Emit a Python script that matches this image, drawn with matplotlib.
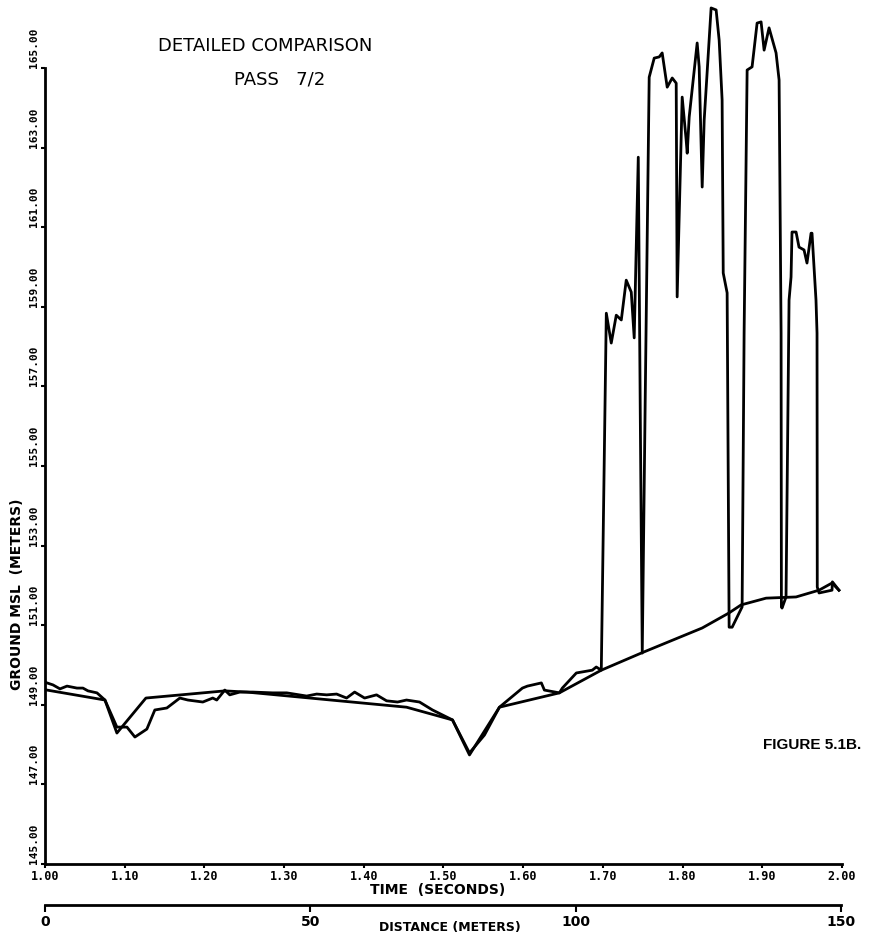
import matplotlib
matplotlib.use("Agg")
from matplotlib import pyplot as plt

# measured profile (time in seconds, ground MSL in meters)
meas_t = [1.0025, 1.010, 1.0188, 1.0276, 1.0401, 1.0476, 1.0539, 1.0652, 1.0752,
          1.0902, 1.1028, 1.1128, 1.1278, 1.1378, 1.1529, 1.1692, 1.1792, 1.1980,
          1.2105, 1.2155, 1.2256, 1.2318, 1.2444, 1.2607, 1.2857, 1.3033, 1.3283,
          1.3409, 1.3534, 1.3659, 1.3784, 1.3885, 1.4010, 1.4160, 1.4286, 1.4424,
          1.4536, 1.4699, 1.4862, 1.5113, 1.5326, 1.5514, 1.5702, 1.5990, 1.6053,
          1.6228, 1.6266, 1.6454, 1.6491, 1.6667, 1.6867, 1.6917, 1.6980,
          1.7043, 1.7105, 1.7168, 1.7231, 1.7293, 1.7356, 1.7393, 1.7444, 1.7469,
          1.7494, 1.7531, 1.7581, 1.7644, 1.7707, 1.7744, 1.7807, 1.7870, 1.7920,
          1.7932, 1.7995, 1.8045, 1.8058, 1.8083, 1.8183, 1.8208, 1.8246, 1.8271,
          1.8358, 1.8421, 1.8459, 1.8496, 1.8510, 1.8559, 1.8584, 1.8622, 1.8747,
          1.8772, 1.8810, 1.8872, 1.8935, 1.8985, 1.9023, 1.9085, 1.9173, 1.9211,
          1.9236, 1.9240, 1.9248, 1.9298, 1.9336, 1.9361, 1.9373, 1.9424, 1.9461,
          1.9524, 1.9561, 1.9612, 1.9624, 1.9674, 1.9687, 1.9690, 1.9712, 1.9875,
          1.9880, 1.9962]
meas_z = [149.55, 149.50, 149.40, 149.47, 149.42, 149.42, 149.35, 149.30, 149.12,
          148.44, 148.44, 148.19, 148.39, 148.87, 148.92, 149.17, 149.12, 149.07,
          149.17, 149.12, 149.37, 149.25, 149.32, 149.32, 149.30, 149.30, 149.22,
          149.27, 149.25, 149.27, 149.17, 149.32, 149.17, 149.25, 149.10, 149.07,
          149.12, 149.07, 148.87, 148.62, 147.79, 148.24, 148.94, 149.42, 149.47,
          149.55, 149.37, 149.30, 149.42, 149.80, 149.87, 149.95, 149.87,
          158.84, 158.09, 158.79, 158.67, 159.67, 159.37, 158.22, 162.76, 156.33,
          150.30, 156.66, 164.77, 165.25, 165.28, 165.38, 164.52, 164.75, 164.62,
          159.25, 164.27, 163.19, 162.86, 163.77, 165.63, 165.03, 162.01, 163.69,
          166.51, 166.46, 165.70, 164.20, 159.85, 159.35, 150.95, 150.95, 151.46,
          158.34, 164.95, 165.03, 166.13, 166.16, 165.45, 166.01, 165.38, 164.70,
          158.34, 151.46, 151.43, 151.71, 159.17, 159.75, 160.88, 160.88, 160.50,
          160.43, 160.10, 160.85, 160.85, 159.17, 158.34, 151.96, 151.81, 151.88,
          152.09, 151.88]

# reference ground profile
ref_t = [1.0025, 1.0752, 1.0902, 1.1266, 1.2256, 1.2531, 1.4536, 1.5113, 1.5326,
         1.5702, 1.6454, 1.6980, 1.7481, 1.8246, 1.8584, 1.8734, 1.9048, 1.9424,
         1.9712, 1.9875, 1.9962]
ref_z = [149.37, 149.12, 148.29, 149.17, 149.35, 149.32, 148.94, 148.62, 147.74,
         148.94, 149.30, 149.87, 150.30, 150.93, 151.31, 151.51, 151.68, 151.71,
         151.88, 152.06, 151.88]

time_ticks = [1.0, 1.1, 1.2, 1.3, 1.4, 1.5, 1.6, 1.7, 1.8, 1.9, 2.0]
elev_ticks = [145, 147, 149, 151, 153, 155, 157, 159, 161, 163, 165]
dist_ticks = [0, 50, 100, 150]

fig = plt.figure(figsize=(8.74, 9.38), dpi=100)
ax = fig.add_axes([0.0515, 0.0789, 0.913, 0.9211])

ax.plot(ref_t, ref_z, color="black", lw=2.0, solid_joinstyle="round")
ax.plot(meas_t, meas_z, color="black", lw=2.0, solid_joinstyle="round")

ax.set_xlim(1.0, 2.0 + 1 / 798)
ax.set_ylim(145, 166.71)

for s in ["top", "right"]:
    ax.spines[s].set_visible(False)
ax.spines["left"].set_bounds(145, 165)
ax.spines["bottom"].set_bounds(1.0, 2.0)
ax.spines["left"].set_linewidth(2)
ax.spines["bottom"].set_linewidth(2)

ax.set_xticks(time_ticks)
ax.set_xticklabels(["%.2f" % v for v in time_ticks], family="DejaVu Sans Mono",
                   fontsize=8.5, fontweight="bold")
ax.set_yticks(elev_ticks)
ax.set_yticklabels(["%.2f" % v for v in elev_ticks], family="DejaVu Sans Mono",
                   fontsize=8, fontweight="bold", rotation=90, va="bottom")
ax.tick_params(axis="both", direction="out", length=3, width=1.5, pad=1)

# distance axis under the time axis
sec = ax.secondary_xaxis(-0.0475, functions=(lambda t: (t - 1) * 150.1,
                                             lambda d: 1 + d / 150.1))
sec.set_xticks(dist_ticks)
sec.set_xticklabels([str(v) for v in dist_ticks], fontsize=10, fontweight="bold")
sec.spines["bottom"].set_bounds(0, 150)
sec.spines["bottom"].set_linewidth(2)
sec.tick_params(direction="out", length=5, width=1.5, pad=2)

fig.text(0.019, 0.366, "GROUND MSL  (METERS)", rotation=90, ha="center",
         va="center", fontsize=10, fontweight="bold")
fig.text(0.501, 0.0515, "TIME  (SECONDS)", ha="center", va="center",
         fontsize=10, fontweight="bold")
fig.text(0.515, 0.0107, "DISTANCE (METERS)", ha="center", va="center",
         fontsize=9, fontweight="bold")

fig.text(0.303, 0.951, "DETAILED COMPARISON", ha="center", va="center", fontsize=13)
fig.text(0.32, 0.915, "PASS   7/2", ha="center", va="center", fontsize=13)
fig.text(0.929, 0.206, "FIGURE 5.1B.", ha="center", va="center", fontsize=11,
         fontweight="bold", family="Liberation Sans")

fig.savefig("out.png", dpi=100)
